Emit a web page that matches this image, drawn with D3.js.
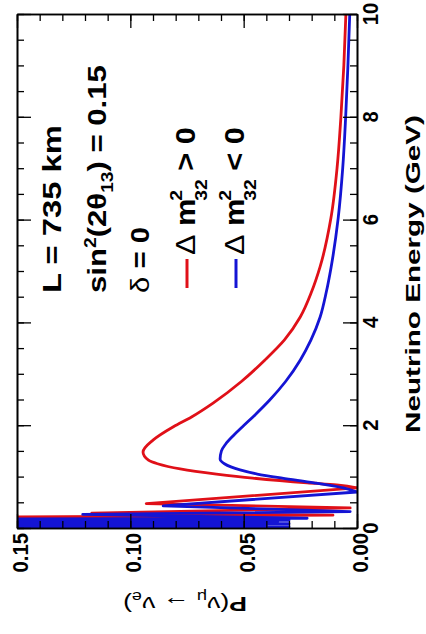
<!DOCTYPE html>
<html>
<head>
<meta charset="utf-8">
<script src="https://cdn.jsdelivr.net/npm/d3@7"></script>
<style>
  body { margin: 0; background: #fff; }
</style>
</head>
<body>
<script>
var energyTicks = [0, 2, 4, 6, 8, 10];
var probTicks = [0, 0.05, 0.10, 0.15];
var probTickLabels = ["0.00", "0.05", "0.10", "0.15"];

// Delta m^2_32 > 0 (red)
var redEnergy = [0.01, 0.02, 0.03, 0.04, 0.05, 0.06, 0.07, 0.08, 0.09, 0.10, 0.11, 0.12, 0.13, 0.145, 0.16, 0.18, 0.21,
    0.25, 0.29, 0.39, 0.475, 0.78, 0.84, 0.88, 0.97, 1.05, 1.15, 1.25, 1.32, 1.48,
    1.71, 1.97, 2.16, 2.43, 2.85, 3.27, 3.66, 4.1, 4.6, 5.08, 6.03, 7.0, 8.0, 9.0, 10.0];
var redProb = [0.20, 0.05, 0.25, 0.06, 0.25, 0.05, 0.24, 0.04, 0.23, 0.05, 0.22, 0.04, 0.21, 0.04, 0.20, 0.03, 0.17,
    0.0106, 0.117, 0.003, 0.093, 0.0, 0.009, 0.022, 0.046, 0.062, 0.078, 0.088, 0.092, 0.0944,
    0.090, 0.081, 0.073, 0.0635, 0.051, 0.0406, 0.032, 0.0251, 0.0200, 0.0163, 0.0115, 0.0088, 0.0071, 0.0058, 0.0049];
var redZero = 0.78;

// Delta m^2_32 < 0 (blue)
var blueEnergy = [0.005, 0.015, 0.025, 0.035, 0.045, 0.055, 0.065, 0.075, 0.085, 0.095, 0.105, 0.115, 0.125, 0.135,
    0.15, 0.17, 0.19, 0.265, 0.32, 0.43, 0.70, 0.78, 0.88, 0.97,
    1.05, 1.13, 1.25, 1.34, 1.5, 1.63, 1.8, 1.97, 2.2, 2.49, 2.85, 3.27,
    3.66, 4.1, 4.6, 5.08, 6.03, 7.0, 8.0, 9.0, 10.0];
var blueProb = [0.05, 0.25, 0.03, 0.25, 0.04, 0.25, 0.05, 0.24, 0.03, 0.23, 0.04, 0.22, 0.035, 0.21,
    0.03, 0.19, 0.022, 0.121, 0.003, 0.0855, 0.0, 0.006, 0.019, 0.033,
    0.044, 0.0516, 0.0585, 0.0604, 0.0598, 0.0580, 0.0545, 0.0505, 0.045, 0.0385, 0.0315, 0.0250,
    0.0203, 0.0163, 0.0135, 0.0114, 0.0083, 0.0063, 0.0050, 0.0040, 0.0032];
var blueZero = 0.70;

var red = "#e01018", blue = "#1414d4";
var font = "'Liberation Sans', Arial, Helvetica, sans-serif";

var width = 426, height = 634;
var frameL = 17, frameR = 357, frameT = 14, frameB = 528;

var svg = d3.select("body").append("svg")
    .attr("width", width)
    .attr("height", height)
    .style("font-family", font);

// the whole plot is turned a quarter turn: energy runs up, probability runs left
var y = d3.scaleLinear().domain([0, 10]).range([frameB, frameT]);
var x = d3.scaleLinear().domain([0, 0.15]).range([frameR, frameL]);

svg.append("clipPath").attr("id", "frame")
    .append("rect")
    .attr("x", frameL).attr("y", frameT)
    .attr("width", frameR - frameL).attr("height", frameB - frameT);

var line = d3.line()
    .x(function(d) { return x(d[1]); })
    .y(function(d) { return y(d[0]); });

// fast wiggles below the first zero are straight segments, the main lobe is smooth
function curve(es, ps, zero, color) {
    var pts = d3.zip(es, ps);
    var k = es.indexOf(zero);
    [[pts.slice(0, k + 1), d3.curveLinear], [pts.slice(k), d3.curveMonotoneY]].forEach(function(p) {
        svg.append("path")
            .datum(p[0])
            .attr("clip-path", "url(#frame)")
            .attr("fill", "none")
            .attr("stroke", color)
            .attr("stroke-width", 2.8)
            .attr("stroke-linejoin", "round")
            .attr("d", line.curve(p[1]));
    });
}
curve(redEnergy, redProb, redZero, red);
curve(blueEnergy, blueProb, blueZero, blue);

// ticks on all four sides, pointing into the frame
function ticks(axis, tx, ty, size, values) {
    svg.append("g")
        .attr("transform", "translate(" + tx + "," + ty + ")")
        .call(axis.tickValues(values).tickSizeInner(size).tickSizeOuter(0).tickFormat(""))
        .call(function(g) {
            g.selectAll("line").attr("stroke", "#000").attr("stroke-width", 1.3);
            g.select(".domain").attr("stroke", "#000").attr("stroke-width", 1.6);
        });
}
var eMinor = d3.range(0, 10.001, 0.5);
var pMinor = d3.range(0, 0.1505, 0.01);
ticks(d3.axisRight(y), frameR, 0, -7, eMinor);
ticks(d3.axisRight(y), frameR, 0, -14, energyTicks);
ticks(d3.axisLeft(y), frameL, 0, -7, eMinor);
ticks(d3.axisLeft(y), frameL, 0, -14, energyTicks);
ticks(d3.axisBottom(x), 0, frameB, -7, pMinor);
ticks(d3.axisBottom(x), 0, frameB, -14, probTicks);
ticks(d3.axisTop(x), 0, frameT, -7, pMinor);
ticks(d3.axisTop(x), 0, frameT, -14, probTicks);

// stretch a text along its reading direction to a given length
function fit(t, len) {
    var w = t.node().getBBox().width;
    t.attr("transform", t.attr("transform") + " scale(" + (len / w) + ",1)");
    return t;
}

// tick labels
svg.append("g").selectAll("text")
    .data(energyTicks)
    .join("text")
    .attr("transform", function(d) { return "translate(378," + y(d) + ") rotate(-90) scale(0.92,1)"; })
    .attr("text-anchor", "middle")
    .attr("font-size", 22)
    .attr("font-weight", "bold")
    .text(function(d) { return d; });

svg.append("g").selectAll("text")
    .data(probTicks)
    .join("text")
    .attr("transform", function(d) { return "translate(" + (x(d) + 11) + ",533) rotate(-90) scale(0.92,1)"; })
    .attr("text-anchor", "end")
    .attr("font-size", 22)
    .attr("font-weight", "bold")
    .text(function(d, i) { return probTickLabels[i]; });

// axis titles
fit(svg.append("text")
    .attr("transform", "translate(420," + ((frameT + frameB) / 2 + 3) + ") rotate(-90)")
    .attr("text-anchor", "middle")
    .attr("font-size", 20)
    .attr("font-weight", "bold")
    .text("Neutrino Energy (GeV)"), 318);

var yt = svg.append("text")
    .attr("transform", "translate(185,597) rotate(180)")
    .attr("text-anchor", "middle")
    .attr("font-size", 21);
yt.append("tspan").attr("font-weight", "bold").text("P");
yt.append("tspan").text("(ν");
yt.append("tspan").attr("font-size", 14).attr("dy", 5).text("μ");
yt.append("tspan").attr("dy", -5).text(" → ν");
yt.append("tspan").attr("font-size", 14).attr("dy", 5).text("e");
yt.append("tspan").attr("dy", -5).text(")");
fit(yt, 124);

// parameter block
function block(bx, by, size) {
    return svg.append("text")
        .attr("transform", "translate(" + bx + "," + by + ") rotate(-90)")
        .attr("font-size", size || 26)
        .attr("font-weight", "bold");
}
fit(block(61, 293).text("L = 735 km"), 168);

var s2 = block(106, 293);
s2.append("tspan").text("sin");
s2.append("tspan").attr("font-size", 16).attr("dy", -10).text("2");
s2.append("tspan").attr("dy", 10).text("(2θ");
s2.append("tspan").attr("font-size", 16).attr("dy", 7).text("13");
s2.append("tspan").attr("dy", -7).text(") = 0.15");
fit(s2, 228);

var dl = block(149, 293);
dl.append("tspan").attr("font-weight", "normal").text("δ");
dl.append("tspan").text(" = 0");
fit(dl, 66);

// legend
var legend = [{color: red, sign: ">"}, {color: blue, sign: "<"}];
legend.forEach(function(d, i) {
    var bx = 195 + i * 49;
    svg.append("line")
        .attr("x1", bx - 8).attr("x2", bx - 8)
        .attr("y1", 259).attr("y2", 288)
        .attr("stroke", d.color)
        .attr("stroke-width", 3);
    var t = block(bx, 255, 27);
    t.append("tspan").attr("font-weight", "normal").text("Δ");
    t.append("tspan").text(" m");
    t.append("tspan").attr("font-size", 17).attr("dx", -2).attr("dy", -13).text("2");
    t.append("tspan").attr("font-size", 17).attr("dx", -9.5).attr("dy", 25).text("32");
    t.append("tspan").attr("dy", -12).text(" " + d.sign + " 0");
    fit(t, 128);
});
</script>
</body>
</html>
